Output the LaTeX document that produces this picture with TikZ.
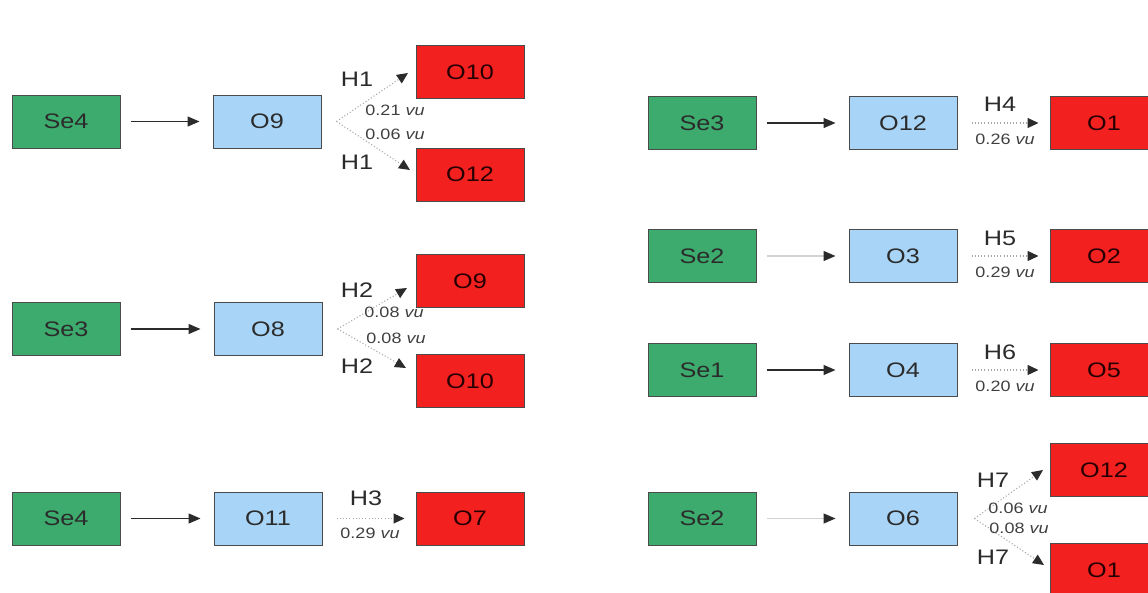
\documentclass[tikz,border=0pt]{standalone}
\usepackage{fontspec}
\setmainfont{Liberation Sans}[FakeStretch=1.2]
\usetikzlibrary{arrows.meta,calc}
\definecolor{segreen}{HTML}{3CAB6D}
\definecolor{objblue}{HTML}{A8D5F7}
\definecolor{hypred}{HTML}{F2201E}
\definecolor{ink}{HTML}{2B2B2B}
\begin{document}
\begin{tikzpicture}[x=1pt,y=-1pt,
  box/.style={draw=ink!85, line width=1pt, minimum width=108pt, minimum height=53pt,
    inner sep=0pt, font=\fontsize{21}{21}\selectfont, text=ink},
  sensor/.style={box, fill=segreen},
  obj/.style={box, fill=objblue},
  hyp/.style={box, fill=hypred, text=black!85!red},
  flow/.style={line width=1.3pt, draw=ink, -{Triangle[length=12pt,width=10pt]},
    shorten <=10pt, shorten >=13pt},
  faint/.style={flow, draw=gray!35, -{Triangle[length=12pt,width=10pt,color=ink]}},
  link/.style={line width=1.1pt, draw=gray!70, dash pattern=on 1pt off 2.2pt,
    -{Triangle[length=11pt,width=10pt,color=ink]}},
  single/.style={link, shorten <=14pt, shorten >=11pt},
  hlab/.style={font=\fontsize{21}{21}\selectfont, text=ink, inner sep=0pt},
  vlab/.style={font=\fontsize{15}{15}\selectfont, text=ink!90, inner sep=0pt},
]
\fill[white] (0,0) rectangle (1148,592);
\useasboundingbox (0,0) rectangle (1148,592);

% ---------- left column ----------
% Se4 -> O9 -> {O10, O12}
\node[sensor] (s1) at (66,121.5) {Se4};
\node[obj] (b1) at (267,121.5) {O9};
\node[hyp] (r1a) at (470,72) {O10};
\node[hyp] (r1b) at (470,174.5) {O12};
\draw[flow] (s1) -- (b1);
\coordinate (f1) at ($(b1.east)+(15,0)$);
\coordinate (t1a) at (408,73);
\coordinate (t1b) at (410,170);
\draw[link] (f1) -- (t1a);
\draw[link] (f1) -- (t1b);
\node[hlab] (h1a) at (357,79) {H1};
\node[hlab] (h1b) at (357,162) {H1};
\node[vlab] (v1a) at (395,110) {0.21 \textit{vu}};
\node[vlab] (v1b) at (395,134) {0.06 \textit{vu}};

% Se3 -> O8 -> {O9, O10}
\node[sensor] (s2) at (66,329) {Se3};
\node[obj] (b2) at (268,329) {O8};
\node[hyp] (r2a) at (470,281) {O9};
\node[hyp] (r2b) at (470,381) {O10};
\draw[flow] (s2) -- (b2);
\coordinate (f2) at ($(b2.east)+(15,0)$);
\coordinate (t2a) at (407,288);
\coordinate (t2b) at (406,368);
\draw[link] (f2) -- (t2a);
\draw[link] (f2) -- (t2b);
\node[hlab] (h2a) at (357,290) {H2};
\node[hlab] (h2b) at (357,366) {H2};
\node[vlab] (v2a) at (394,312) {0.08 \textit{vu}};
\node[vlab] (v2b) at (396,338) {0.08 \textit{vu}};

% Se4 -> O11 -> O7
\node[sensor] (s3) at (66,518.5) {Se4};
\node[obj] (b3) at (268,518.5) {O11};
\node[hyp] (r3) at (470,518.5) {O7};
\draw[flow] (s3) -- (b3);
\draw[single] (b3) -- (r3);
\node[hlab] (h3) at (366,498) {H3};
\node[vlab] (v3) at (370,533) {0.29 \textit{vu}};

% ---------- right column ----------
% Se3 -> O12 -> O1
\node[sensor] (s4) at (702,123) {Se3};
\node[obj] (b4) at (903,123) {O12};
\node[hyp] (r4) at (1104,123) {O1};
\draw[flow] (s4) -- (b4);
\draw[single] (b4) -- (r4);
\node[hlab] (h4) at (1000,104) {H4};
\node[vlab] (v4) at (1005,139) {0.26 \textit{vu}};

% Se2 -> O3 -> O2
\node[sensor] (s5) at (702,256) {Se2};
\node[obj] (b5) at (903,256) {O3};
\node[hyp] (r5) at (1104,256) {O2};
\draw[faint] (s5) -- (b5);
\draw[single] (b5) -- (r5);
\node[hlab] (h5) at (1000,238) {H5};
\node[vlab] (v5) at (1005,272) {0.29 \textit{vu}};

% Se1 -> O4 -> O5
\node[sensor] (s6) at (702,370) {Se1};
\node[obj] (b6) at (903,370) {O4};
\node[hyp] (r6) at (1104,370) {O5};
\draw[flow] (s6) -- (b6);
\draw[single] (b6) -- (r6);
\node[hlab] (h6) at (1000,352) {H6};
\node[vlab] (v6) at (1005,386) {0.20 \textit{vu}};

% Se2 -> O6 -> {O12, O1}
\node[sensor] (s7) at (702,518.5) {Se2};
\node[obj] (b7) at (903,518.5) {O6};
\node[hyp] (r7a) at (1104,470) {O12};
\node[hyp] (r7b) at (1104,570) {O1};
\draw[faint] (s7) -- (b7);
\coordinate (f7) at ($(b7.east)+(17,0)$);
\coordinate (t7a) at (1043,470);
\coordinate (t7b) at (1044,565);
\draw[link] (f7) -- (t7a);
\draw[link] (f7) -- (t7b);
\node[hlab] (h7a) at (993,480) {H7};
\node[hlab] (h7b) at (993,557) {H7};
\node[vlab] (v7a) at (1018,508) {0.06 \textit{vu}};
\node[vlab] (v7b) at (1019,528) {0.08 \textit{vu}};
\end{tikzpicture}
\end{document}
